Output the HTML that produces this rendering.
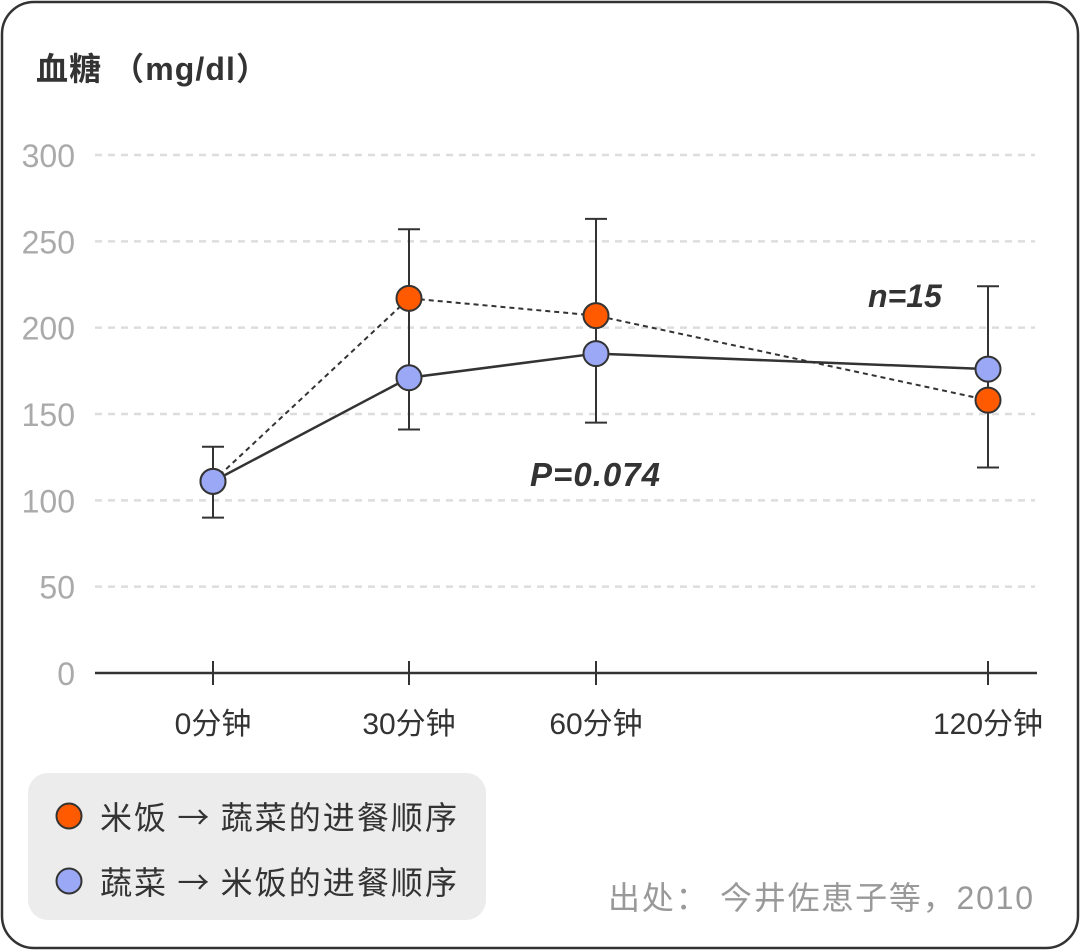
<!DOCTYPE html>
<html><head><meta charset="utf-8"><style>
body{margin:0;background:#fff;}
svg{display:block;font-family:"Liberation Sans","Noto Sans CJK SC",sans-serif;}
</style></head><body>
<svg id="c" width="1080" height="950" viewBox="0 0 1080 950">
<rect x="2" y="2" width="1076" height="946" rx="32" fill="#fff" stroke="#333" stroke-width="2.5"/>
<text x="36" y="80" font-size="32" font-weight="bold" fill="#333" textLength="232">血糖 （mg/dl）</text>
<g id="grid"></g>
<g id="marks"></g>
<text x="530" y="486" font-size="33" font-weight="bold" font-style="italic" fill="#333" textLength="130">P=0.074</text>
<text x="868" y="307" font-size="32" font-weight="bold" font-style="italic" fill="#333">n=15</text>
<rect x="28" y="773" width="458" height="147" rx="20" fill="#ececec"/>
<g>
<circle cx="69" cy="816" r="12.5" fill="#ff5a00" stroke="#333" stroke-width="2"/>
<text x="100" y="829" font-size="32" fill="#333" font-family="Noto Sans CJK SC, sans-serif" textLength="357">米饭 → 蔬菜的进餐顺序</text></g>
<g>
<circle cx="69" cy="881" r="12.5" fill="#9aa8f5" stroke="#333" stroke-width="2"/>
<text x="100" y="894" font-size="32" fill="#333" font-family="Noto Sans CJK SC, sans-serif" textLength="357">蔬菜 → 米饭的进餐顺序</text></g>
<text x="608" y="909" font-size="32" fill="#999" textLength="425">出处： 今井佐恵子等，2010</text>
</svg>
<script>
const times=[0,30,60,120];
const xLabels=["0分钟","30分钟","60分钟","120分钟"];
const yTicks=[0,50,100,150,200,250,300];
const riceFirst=[111,217,207,158];
const vegFirst=[111,171,185,176];
const errHigh=[131,257,263,224];
const errLow=[90,141,145,119];
const NS="http://www.w3.org/2000/svg";
const xDom=[0,30,60,120],xRng=[213,409,596,988];
function x(t){for(let i=0;i<xDom.length-1;i++){if(t<=xDom[i+1]||i===xDom.length-2){return xRng[i]+(t-xDom[i])*(xRng[i+1]-xRng[i])/(xDom[i+1]-xDom[i]);}}}
const y=v=>673-v*(673-155)/300;
function mk(tag,attrs,parent){const e=document.createElementNS(NS,tag);for(const k in attrs)e.setAttribute(k,attrs[k]);parent.appendChild(e);return e;}
const grid=document.getElementById('grid'),marks=document.getElementById('marks');
yTicks.forEach(v=>{
 if(v>0){const l=mk('line',{x1:95,x2:1035,y1:y(v),y2:y(v),stroke:'#ddd','stroke-width':2.5,'stroke-dasharray':'7 6'},grid);
 
 }
 const t=mk('text',{x:75,y:y(v)+12,'text-anchor':'end','font-size':32,fill:'#aaa'},grid);t.textContent=v;
 
 
});
const ax=mk('line',{x1:95,x2:1037,y1:673,y2:673,stroke:'#333','stroke-width':2.5},grid);


times.forEach((t,i)=>{
 mk('line',{x1:x(t),x2:x(t),y1:661,y2:685,stroke:'#333','stroke-width':2},grid);
 const lb=mk('text',{x:x(t),y:734,'text-anchor':'middle','font-size':30,fill:'#333'},grid);lb.textContent=xLabels[i];
 
 
 const g=mk('g',{stroke:'#333','stroke-width':2},marks);
 
 
 mk('line',{x1:x(t),x2:x(t),y1:y(errLow[i]),y2:y(errHigh[i])},g);
 mk('line',{x1:x(t)-11,x2:x(t)+11,y1:y(errLow[i]),y2:y(errLow[i])},g);
 mk('line',{x1:x(t)-11,x2:x(t)+11,y1:y(errHigh[i]),y2:y(errHigh[i])},g);
});
const p1=mk('polyline',{points:times.map((t,i)=>x(t)+','+y(riceFirst[i])).join(' '),fill:'none',stroke:'#333','stroke-width':2,'stroke-dasharray':'5 4'},marks);


const p2=mk('polyline',{points:times.map((t,i)=>x(t)+','+y(vegFirst[i])).join(' '),fill:'none',stroke:'#333','stroke-width':2.5},marks);


times.forEach((t,i)=>{
 const a=mk('circle',{cx:x(t),cy:y(riceFirst[i]),r:12.5,fill:'#ff5a00',stroke:'#333','stroke-width':2},marks);
 
 
});
times.forEach((t,i)=>{
 const b=mk('circle',{cx:x(t),cy:y(vegFirst[i]),r:12.5,fill:'#9aa8f5',stroke:'#333','stroke-width':2},marks);
 
 
});
</script>
</body></html>
